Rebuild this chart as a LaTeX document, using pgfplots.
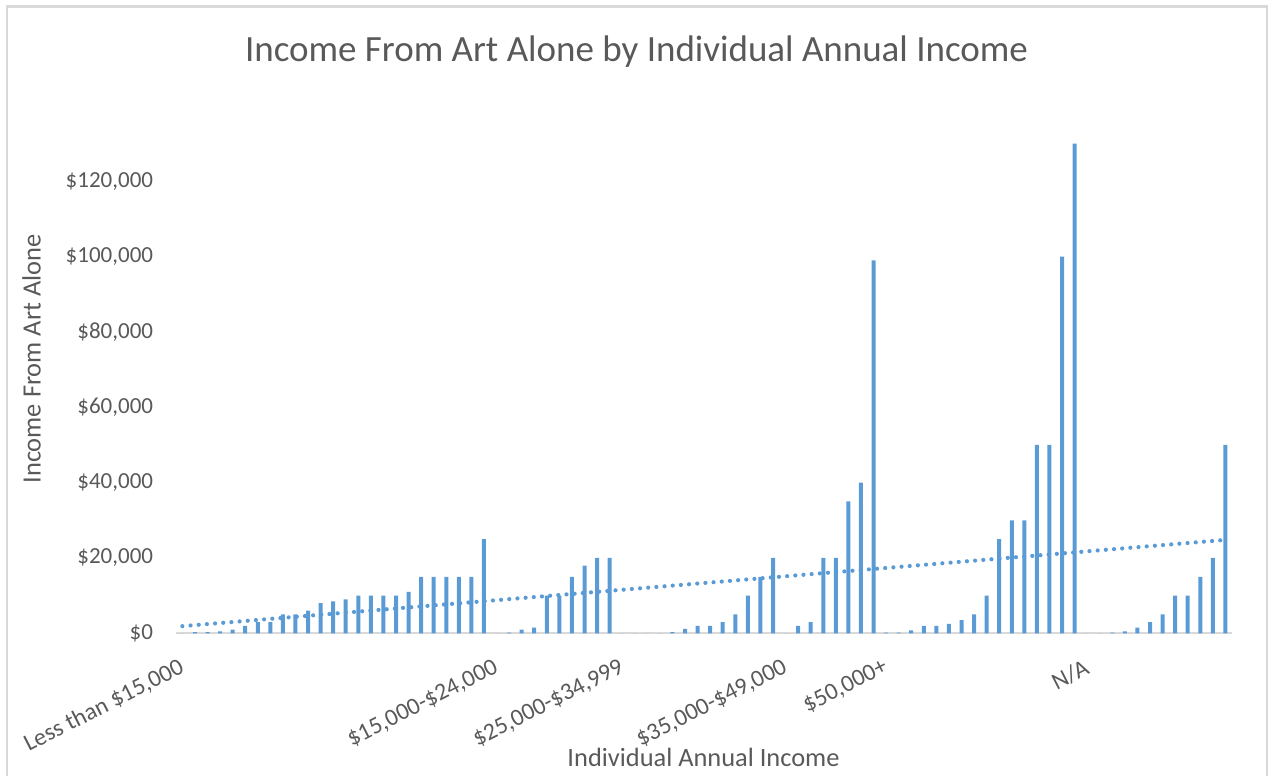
\documentclass[border=0pt]{standalone}
\usepackage{pgfplots}
\pgfplotsset{compat=1.18}
\usepackage{fontspec}
\setmainfont{Carlito}
\definecolor{barblue}{HTML}{5B9BD5}
\definecolor{txtgray}{HTML}{595959}
\definecolor{axgray}{HTML}{D9D9D9}
\begin{document}
\begin{tikzpicture}
\begin{axis}[
  at={(0,0)}, anchor=south west,
  scale only axis, width=527.8bp, height=263.65bp,
  xmin=-0.5, xmax=83.5, ymin=0, ymax=140000,
  axis lines*=left,
  x axis line style={draw=axgray, line width=0.9bp},
  y axis line style={draw=none},
  major tick length=0pt,
  scaled y ticks=false,
  /pgf/number format/assume math mode=true,
  xtick={0,25,35,48,56,72},
  xticklabels={{Less than \$15,000},{\$15,000-\$24,000},{\$25,000-\$34,999},{\$35,000-\$49,000},{\$50,000+},{N/A}},
  ytick={0,20000,40000,60000,80000,100000,120000},
  yticklabels={{\$0},{\$20,000},{\$40,000},{\$60,000},{\$80,000},{\$100,000},{\$120,000}},
  xticklabel style={rotate=27, anchor=east, yshift=-14.5bp, xshift=-4bp, font=\fontsize{12bp}{13bp}\selectfont, text=txtgray},
  yticklabel style={xshift=-8bp, font=\fontsize{11.5bp}{13bp}\selectfont, text=txtgray},
  clip=false,
]
\addplot[ybar, bar width=2bp, fill=barblue, draw=none] coordinates {
(0,0) (1,300) (2,300) (3,500) (4,1000) (5,2000) (6,3000) (7,3000) (8,5000) (9,5000)
(10,6000) (11,8000) (12,8500) (13,9000) (14,10000) (15,10000) (16,10000) (17,10000) (18,11000) (19,15000)
(20,15000) (21,15000) (22,15000) (23,15000) (24,25000) (25,0) (26,200) (27,1000) (28,1500) (29,10000)
(30,10000) (31,15000) (32,18000) (33,20000) (34,20000) (35,0) (36,0) (37,0) (38,0) (39,300)
(40,1200) (41,2000) (42,2000) (43,3000) (44,5000) (45,10000) (46,15000) (47,20000) (48,0) (49,2000)
(50,3000) (51,20000) (52,20000) (53,35000) (54,40000) (55,99000) (56,200) (57,200) (58,800) (59,2000)
(60,2000) (61,2500) (62,3500) (63,5000) (64,10000) (65,25000) (66,30000) (67,30000) (68,50000) (69,50000)
(70,100000) (71,130000) (72,0) (73,0) (74,200) (75,500) (76,1500) (77,3000) (78,5000) (79,10000)
(80,10000) (81,15000) (82,20000) (83,50000)
};
\addplot[barblue, line width=2.1bp, dash pattern=on 0pt off 4.1bp, line cap=round] coordinates {(0,1900) (83,24800)};
\end{axis}
\draw[axgray, line width=1.2bp] (-84.55bp,-90bp) -- (-84.55bp,313.4bp) -- (545.45bp,313.4bp) -- (545.45bp,-90bp);
\node[anchor=base, text=txtgray, font=\fontsize{18.5bp}{22bp}\selectfont] at (230.2bp,285.65bp) {Income From Art Alone by Individual Annual Income};
\node[anchor=base, text=txtgray, font=\fontsize{13.2bp}{15bp}\selectfont] at (263.7bp,-66.35bp) {Individual Annual Income};
\node[anchor=base, rotate=90, text=txtgray, font=\fontsize{13.2bp}{15bp}\selectfont] at (-67.7bp,137.15bp) {Income From Art Alone};
\pgfresetboundingbox
\path[use as bounding box] (-88.05bp,-71.35bp) rectangle (548.95bp,316.65bp);
\end{tikzpicture}
\end{document}
